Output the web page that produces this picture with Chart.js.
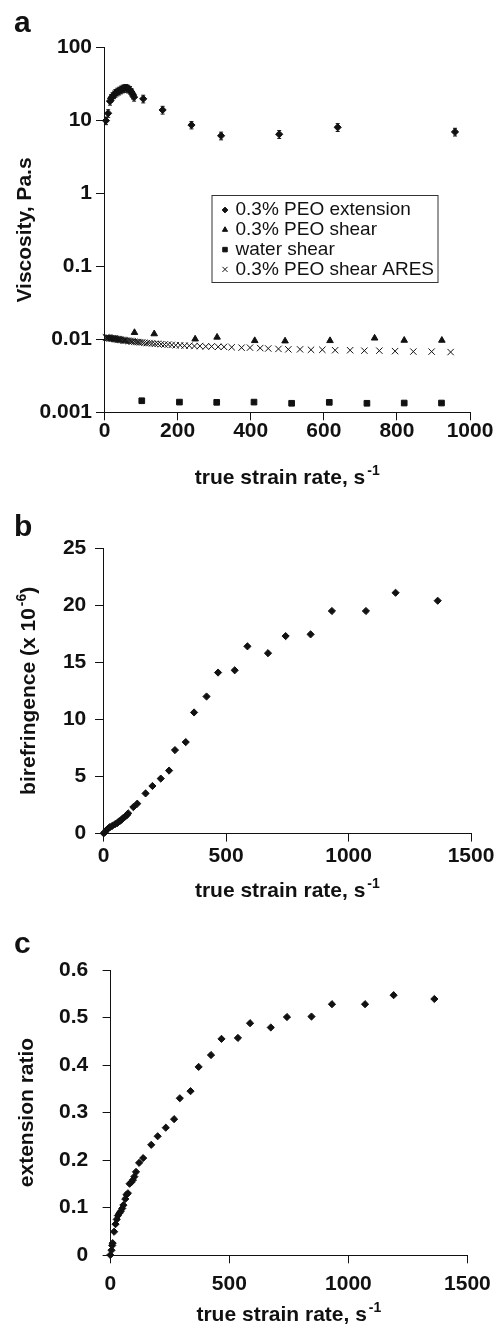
<!DOCTYPE html>
<html>
<head>
<meta charset="utf-8">
<script src="https://cdn.jsdelivr.net/npm/chart.js@4.4.1/dist/chart.umd.min.js"></script>
<style>
html, body { margin: 0; padding: 0; background: #fff; overflow: hidden; }
.panel { position: absolute; left: 0; width: 501px; }
</style>
</head>
<body>
<div class="panel" style="top:0;height:495px"><canvas id="chartA"></canvas></div>
<div class="panel" style="top:495px;height:410px"><canvas id="chartB"></canvas></div>
<div class="panel" style="top:905px;height:419px"><canvas id="chartC"></canvas></div>
<script>
// panel a: viscosity vs strain rate
const extRate = [4, 10, 15, 18, 22, 26, 30, 35, 40, 45, 50, 55, 60, 65, 70, 74, 78, 81, 106, 159, 238, 319, 478, 638, 959];
const extVisc = [10, 12.6, 18.5, 20.3, 21.5, 22.7, 23.8, 24.8, 25.6, 26.5, 27.3, 27.8, 27.9, 27.2, 26.2, 24.5, 22.5, 21, 19.9, 14, 8.7, 6.2, 6.5, 8.1, 7.0];
const extErr = [1.2, 1.5, 2.2, 2.4, 2.6, 2.7, 2.9, 3, 3.1, 3.2, 3.3, 3.3, 3.3, 3.3, 3.1, 2.9, 2.7, 2.5, 2.4, 1.7, 1.0, 0.75, 0.8, 1.0, 0.85];
const shearRate = [82, 136, 248, 308, 411, 494, 617, 739, 820, 923];
const shearVisc = [0.0124, 0.0119, 0.0101, 0.0107, 0.0096, 0.0095, 0.0096, 0.0104, 0.0097, 0.0097];
const waterRate = [102, 205, 307, 409, 512, 615, 718, 820, 922];
const waterVisc = [0.00144, 0.00138, 0.00137, 0.00138, 0.00133, 0.00137, 0.00133, 0.00134, 0.00134];
const aresRate = [4, 6, 8, 10, 12, 14, 16, 18, 20, 22, 24, 26, 27, 29, 31, 33, 35, 37, 39, 41, 43, 46, 49, 52, 55, 58, 61, 65, 69, 73, 77, 82, 87, 92, 97, 103, 109, 116, 123, 130, 138, 146, 155, 164, 174, 184, 195, 207, 219, 232, 246, 261, 277, 293, 311, 327, 348, 375, 398, 426, 448, 476, 503, 535, 565, 596, 631, 672, 711, 752, 795, 845, 895, 947];
const aresVisc = [0.0106, 0.0106, 0.0105, 0.0105, 0.0105, 0.0104, 0.0104, 0.0104, 0.0103, 0.0103, 0.0103, 0.0102, 0.0102, 0.0102, 0.0101, 0.0101, 0.0100, 0.0100, 0.0100, 0.0099, 0.0099, 0.0098, 0.0098, 0.0097, 0.0097, 0.0096, 0.0096, 0.0095, 0.0095, 0.0094, 0.0094, 0.0093, 0.0092, 0.0092, 0.0091, 0.0091, 0.0090, 0.0089, 0.0089, 0.0088, 0.0087, 0.0087, 0.0086, 0.0085, 0.0085, 0.0084, 0.0083, 0.0083, 0.0082, 0.0082, 0.0081, 0.0081, 0.0080, 0.0080, 0.0079, 0.0079, 0.0078, 0.0077, 0.0077, 0.0076, 0.0075, 0.0074, 0.0073, 0.0073, 0.0072, 0.0072, 0.0071, 0.0071, 0.0070, 0.0070, 0.0069, 0.0068, 0.0068, 0.0067];
const viscTicks = [0.001, 0.01, 0.1, 1, 10, 100];
const viscTickLabels = ['0.001', '0.01', '0.1', '1', '10', '100'];
const viscRateTicks = [0, 200, 400, 600, 800, 1000];

// panel b: birefringence
const birefRate = [0, 5, 12, 20, 26, 35, 46, 55, 60, 68, 73, 80, 87, 95, 100, 121, 137, 171, 199, 233, 267, 291, 335, 369, 420, 467, 535, 587, 671, 743, 845, 932, 1071, 1192, 1364];
const biref = [0, 0.1, 0.3, 0.45, 0.55, 0.65, 0.8, 0.9, 1.0, 1.1, 1.2, 1.35, 1.45, 1.6, 1.75, 2.3, 2.6, 3.5, 4.15, 4.8, 5.5, 7.3, 8.0, 10.6, 12.0, 14.1, 14.3, 16.4, 15.8, 17.3, 17.45, 19.5, 19.5, 21.1, 20.4];
const birefTicks = [0, 5, 10, 15, 20, 25];

// panel c: extension ratio
const ratioRate = [0, 5, 8, 10, 16, 22, 27, 32, 38, 44, 50, 55, 63, 68, 74, 81, 88, 95, 101, 108, 121, 138, 172, 199, 233, 268, 292, 337, 371, 423, 467, 536, 587, 674, 742, 845, 931, 1070, 1190, 1361];
const extRatio = [0, 0.01, 0.02, 0.025, 0.049, 0.065, 0.075, 0.083, 0.088, 0.092, 0.098, 0.105, 0.118, 0.127, 0.13, 0.15, 0.153, 0.158, 0.165, 0.175, 0.194, 0.204, 0.232, 0.25, 0.268, 0.286, 0.33, 0.345, 0.396, 0.421, 0.455, 0.457, 0.488, 0.479, 0.501, 0.502, 0.528, 0.528, 0.547, 0.539];
const ratioTicks = [0, 0.1, 0.2, 0.3, 0.4, 0.5, 0.6];
const rateTicks = [0, 500, 1000, 1500];

// axis titles, split where a superscript starts
const rateTitle = [['true strain rate, s', false], ['-1', true]];
const viscTitle = [['Viscosity, Pa.s', false]];
const birefTitle = [['birefringence (x 10', false], ['-6', true], [')', false]];
const ratioTitle = [['extension ratio', false]];

const INK = '#111';
const FONT = '"Liberation Sans", Arial, Helvetica, sans-serif';
const tickFont = { family: FONT, size: 21, weight: 'bold', lineHeight: 1 };

function pts(xs, ys) {
    return xs.map((x, i) => ({ x: x, y: ys[i] }));
}

function axis(o) {
    return {
        type: o.type || 'linear',
        min: o.ticks[0],
        max: o.ticks[o.ticks.length - 1],
        afterBuildTicks: s => { s.ticks = o.ticks.map(v => ({ value: v })); },
        afterFit: s => { if (s.isHorizontal()) s.height = o.size; else s.width = o.size; },
        ticks: {
            font: tickFont, color: INK, padding: o.pad, autoSkip: false, maxRotation: 0,
            callback: (v, i) => o.labels ? o.labels[i] : String(v)
        },
        grid: { drawOnChartArea: false, drawTicks: true, tickLength: o.tick, color: INK, lineWidth: 1 },
        border: { display: true, color: INK, width: 1 },
        title: { display: false }
    };
}

// text with raised superscript pieces, centred on (x, y) baseline
function drawRich(ctx, parts, x, y, rot) {
    const fonts = parts.map(p => p[1] ? 'bold 14px ' + FONT : 'bold 21px ' + FONT);
    let w = 0;
    parts.forEach((p, i) => { ctx.font = fonts[i]; w += ctx.measureText(p[0]).width + (p[1] ? 2 : 0); });
    ctx.save();
    ctx.translate(x, y);
    ctx.rotate(rot);
    ctx.textAlign = 'left';
    ctx.textBaseline = 'alphabetic';
    let cx = -w / 2;
    parts.forEach((p, i) => {
        ctx.font = fonts[i];
        if (p[1]) cx += 2;
        ctx.fillText(p[0], cx, p[1] ? -9 : 0);
        cx += ctx.measureText(p[0]).width;
    });
    ctx.restore();
}

// error bars on the extension data
const errorBars = {
    id: 'errorBars',
    afterDatasetsDraw(chart, args, opts) {
        if (!opts.errors) return;
        const meta = chart.getDatasetMeta(opts.dataset);
        const data = chart.data.datasets[opts.dataset].data;
        const y = chart.scales.y;
        const ctx = chart.ctx;
        ctx.save();
        ctx.strokeStyle = INK;
        ctx.lineWidth = 1;
        meta.data.forEach((pt, i) => {
            const top = y.getPixelForValue(data[i].y + opts.errors[i]);
            const bot = y.getPixelForValue(data[i].y - opts.errors[i]);
            ctx.beginPath();
            ctx.moveTo(pt.x, top); ctx.lineTo(pt.x, bot);
            ctx.moveTo(pt.x - 2, top); ctx.lineTo(pt.x + 2, top);
            ctx.moveTo(pt.x - 2, bot); ctx.lineTo(pt.x + 2, bot);
            ctx.stroke();
        });
        ctx.restore();
    }
};

// panel letter, axis titles and boxed legend
const panelDecor = {
    id: 'panelDecor',
    afterDraw(chart, args, opts) {
        const ctx = chart.ctx;
        const area = chart.chartArea;
        ctx.save();
        ctx.fillStyle = INK;
        ctx.textBaseline = 'alphabetic';
        ctx.textAlign = 'left';
        ctx.font = 'bold 30px ' + FONT;
        ctx.fillText(opts.letter, opts.letterX, opts.letterY);
        drawRich(ctx, opts.xTitle, (area.left + area.right) / 2, opts.xTitleBase, 0);
        drawRich(ctx, opts.yTitle, opts.yTitleBase, (area.top + area.bottom) / 2, -Math.PI / 2);
        const L = opts.legend;
        if (L) {
            ctx.strokeStyle = '#333';
            ctx.lineWidth = 1;
            ctx.strokeRect(L.x + 0.5, L.y + 0.5, L.w, L.h);
            ctx.font = '19px ' + FONT;
            ctx.textBaseline = 'middle';
            chart.data.datasets.forEach((ds, i) => {
                const cy = L.y + L.first + i * L.step;
                ctx.fillStyle = INK;
                ctx.strokeStyle = INK;
                ctx.lineWidth = 1;
                Chart.helpers.drawPoint(ctx, {
                    pointStyle: ds.pointStyle,
                    radius: ds.pointRadius * 0.8,
                    rotation: 0,
                    borderWidth: ds.borderWidth
                }, L.x + L.mark, cy);
                ctx.fillStyle = INK;
                ctx.fillText(ds.label, L.x + L.text, cy);
            });
        }
        ctx.restore();
    }
};

function marks(label, data, style, r) {
    return {
        label: label, data: data, pointStyle: style, pointRadius: r,
        backgroundColor: INK, borderColor: INK, borderWidth: 1,
        showLine: false, clip: false
    };
}

const common = {
    responsive: true,
    maintainAspectRatio: false,
    animation: false,
    events: []
};

new Chart(document.getElementById('chartA'), {
    type: 'scatter',
    data: {
        datasets: [
            marks('0.3% PEO extension', pts(extRate, extVisc), 'rectRot', 3.6),
            marks('0.3% PEO shear', pts(shearRate, shearVisc), 'triangle', 3.8),
            marks('water shear', pts(waterRate, waterVisc), 'rect', 4),
            marks('0.3% PEO shear ARES', pts(aresRate, aresVisc), 'crossRot', 4.5)
        ]
    },
    options: Object.assign({}, common, {
        layout: { padding: { top: 47.7, left: 0, right: 31, bottom: 0 } },
        scales: {
            x: axis({ ticks: viscRateTicks, size: 82.7, pad: 0.5, tick: 8 }),
            y: axis({ type: 'logarithmic', ticks: viscTicks, labels: viscTickLabels, size: 104.5, pad: 4, tick: 8.5 })
        },
        plugins: {
            legend: { display: false },
            tooltip: { enabled: false },
            errorBars: { dataset: 0, errors: extErr },
            panelDecor: {
                letter: 'a', letterX: 14, letterY: 32,
                xTitle: rateTitle, xTitleBase: 483.5, yTitle: viscTitle, yTitleBase: 30.5,
                legend: { x: 211.5, y: 195, w: 226, h: 87, first: 15, step: 19.8, mark: 13.5, text: 24 }
            }
        }
    }),
    plugins: [errorBars, panelDecor]
});

new Chart(document.getElementById('chartB'), {
    type: 'scatter',
    data: { datasets: [marks('birefringence', pts(birefRate, biref), 'rectRot', 3.6)] },
    options: Object.assign({}, common, {
        layout: { padding: { top: 53.3, left: 0, right: 30, bottom: 0 } },
        scales: {
            x: axis({ ticks: rateTicks, size: 71.7, pad: 4.4, tick: 8.3 }),
            y: axis({ ticks: birefTicks, size: 103.7, pad: 8.7, tick: 8.7 })
        },
        plugins: {
            legend: { display: false },
            tooltip: { enabled: false },
            panelDecor: {
                letter: 'b', letterX: 14, letterY: 41,
                xTitle: rateTitle, xTitleBase: 401.7, yTitle: birefTitle, yTitleBase: 35
            }
        }
    }),
    plugins: [panelDecor]
});

new Chart(document.getElementById('chartC'), {
    type: 'scatter',
    data: { datasets: [marks('extension ratio', pts(ratioRate, extRatio), 'rectRot', 3.6)] },
    options: Object.assign({}, common, {
        layout: { padding: { top: 65, left: 0, right: 24.3, bottom: 0 } },
        scales: {
            x: axis({ ticks: rateTicks, size: 69, pad: 10.2, tick: 8.3 }),
            y: axis({ ticks: ratioTicks, size: 110.3, pad: 14.4, tick: 7.7 })
        },
        plugins: {
            legend: { display: false },
            tooltip: { enabled: false },
            panelDecor: {
                letter: 'c', letterX: 14, letterY: 48,
                xTitle: rateTitle, xTitleBase: 415.5, yTitle: ratioTitle, yTitleBase: 33
            }
        }
    }),
    plugins: [panelDecor]
});
</script>
</body>
</html>
